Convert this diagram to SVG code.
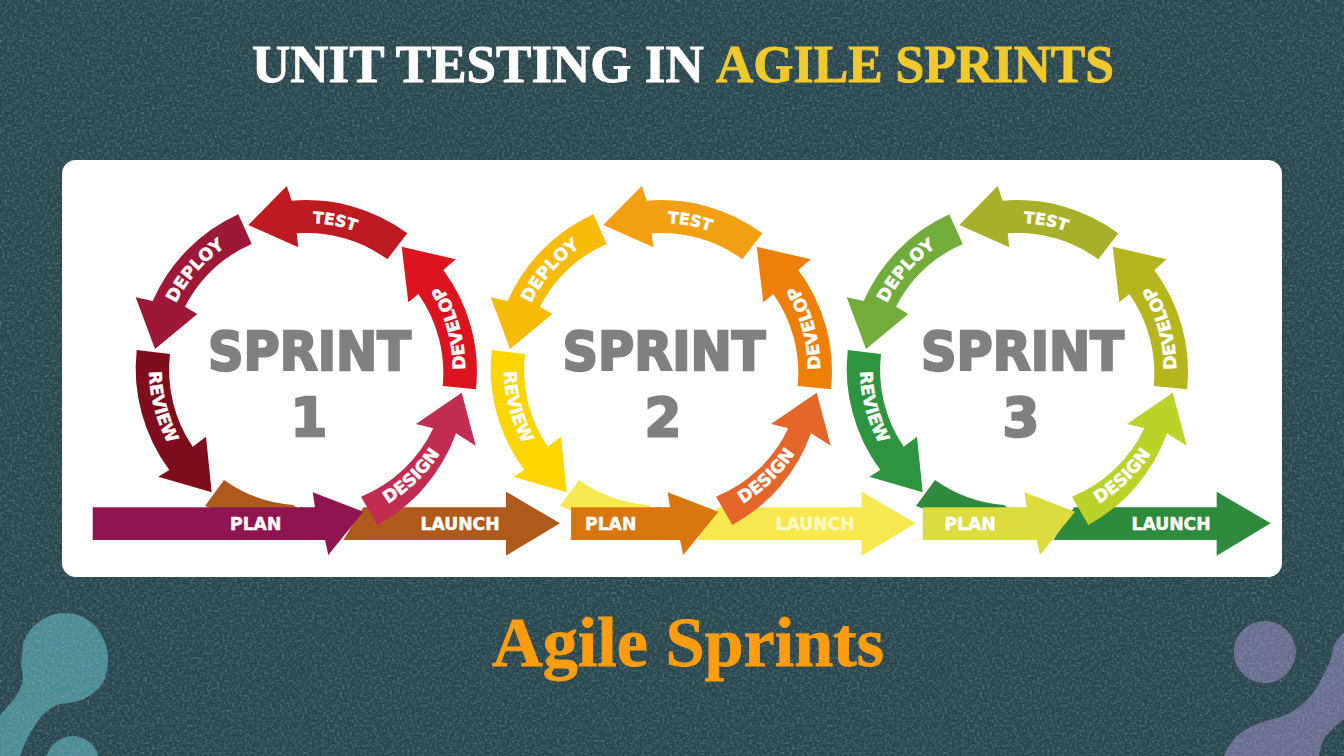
<svg xmlns="http://www.w3.org/2000/svg" width="1344" height="756" viewBox="0 0 1344 756">
<style>
.lab{font-family:"DejaVu Sans","Liberation Sans",sans-serif;font-weight:700;font-size:17.2px;fill:#fff;stroke:#fff;stroke-width:.5;text-anchor:middle}
.sm{font-size:15.8px}
.big{font-family:"DejaVu Sans","Liberation Sans",sans-serif;font-weight:700;fill:#808080;text-anchor:middle;stroke:#808080;stroke-width:2.4}
.title{font-family:"Liberation Serif",serif;font-weight:700;font-size:53px;stroke-width:.9}
.cap{font-family:"Liberation Serif",serif;font-weight:700;font-size:69px;fill:#fb9d0f;stroke:#fb9d0f;stroke-width:.8}
</style>
<defs>
<filter id="grain" x="0" y="0" width="100%" height="100%"><feTurbulence type="fractalNoise" baseFrequency="0.4" numOctaves="2" seed="4"/><feColorMatrix values="0 0 0 0 0.5 0 0 0 0 0.62 0 0 0 0 0.65 0.9 0.9 0 0 -0.8"/></filter>
<path id="test" d="M248.3 225L286.7 186L291.7 200.7A170 170 0 0 1 407.3 233.3L387.3 259.3A137 137 0 0 0 296.7 233.3L298.3 247.3Z"/>
<path id="deploy" d="M238.3 214.3L251.7 244A137 137 0 0 0 185 306.7L197.3 314L155 349L135.7 297.3L152.7 301A170 170 0 0 1 238.3 214.3Z"/>
<path id="review" d="M136.7 350L170 354A137 137 0 0 0 192.7 446.7L206 436.7L211.7 492.3L158.3 476.7L169.3 470A170 170 0 0 1 136.7 350Z"/>
<path id="develop" d="M476 389.3L442.7 386A137 137 0 0 0 418.3 294L408.3 302.3L401.7 246.7L455.7 259.3L443.3 270A170 170 0 0 1 476 389.3Z"/>
<path id="design" d="M461.7 392.7L475.7 445.7L456 433.3A170 170 0 0 1 377.3 525L361 496.7A137 137 0 0 0 433.3 428.3L416 424Z"/>
<path id="planhead" d="M300 507.3H315L312.7 492.3L363.3 511.7L328.3 555L325 540H300Z"/>
<path id="launchhead" d="M506 507.3V491.7L560 523.3L506 555.7V540Z"/>
<path id="swoosh" d="M205 506L224 480A137 137 0 0 0 293 505L300 510H216Z"/>
<path id="tp-test" d="M236.3 241.4A145 145 0 0 1 419.4 276.3"/>
<path id="tp-deploy" d="M161 365.5A146 146 0 0 1 284.3 223.8"/>
<path id="tp-develop" d="M451 433.3A158 158 0 0 0 396.3 237.7"/>
<path id="tp-design" d="M318 525.6A158 158 0 0 0 464.1 384.4"/>
<path id="tp-review" d="M163.8 301.2A158 158 0 0 0 216.3 497.4"/>
<path id="tp-test2" d="M591.3 241.4A145 145 0 0 1 774.4 276.3"/>
<path id="tp-deploy2" d="M516 365.5A146 146 0 0 1 639.3 223.8"/>
<path id="tp-develop2" d="M806 433.3A158 158 0 0 0 751.3 237.7"/>
<path id="tp-design2" d="M673 525.6A158 158 0 0 0 819.1 384.4"/>
<path id="tp-review2" d="M518.8 301.2A158 158 0 0 0 571.3 497.4"/>
<path id="tp-test3" d="M947.3 241.4A145 145 0 0 1 1130.4 276.3"/>
<path id="tp-deploy3" d="M872 365.5A146 146 0 0 1 995.3 223.8"/>
<path id="tp-develop3" d="M1162 433.3A158 158 0 0 0 1107.3 237.7"/>
<path id="tp-design3" d="M1029 525.6A158 158 0 0 0 1175.1 384.4"/>
<path id="tp-review3" d="M874.8 301.2A158 158 0 0 0 927.3 497.4"/>
</defs>
<g id="background">
<rect width="1344" height="756" fill="#2a474e"/>
<path fill="#4b8b93" d="M0 715C12 702 24 690 23 674C20 668 22 655 23 644C29 625 47 613 65 613C90 613 108 635 108 659C108 677 102 687 93 693C84 701 72 703 60 704C47 708 39 718 33 729C27 737 24 746 20 756H0Z"/>
<circle cx="72.5" cy="762.5" r="26.5" fill="#4b8b93"/>
<circle cx="1264.7" cy="652" r="31" fill="#686d8e"/>
<path fill="#686d8e" d="M1344 632.7C1337 638 1333 645 1332 652.7C1331 660 1329 664 1327 667.7C1322 678 1317 688 1310.7 696C1304 704 1296 710 1287 714C1277 719 1267 720 1257 724C1247 728 1239 733 1234 739C1230 744 1226 750 1224 756H1319C1320 750 1321 745 1324 739C1329 731 1337 725 1344 719Z"/>
<rect width="1344" height="756" filter="url(#grain)" opacity="0.5"/>
</g>
<g id="title"><text class="title" x="252" y="82" fill="#fff" stroke="#fff">UNIT TESTING IN</text><text class="title" x="716" y="82" fill="#f0c92e" stroke="#f0c92e" textLength="398" lengthAdjust="spacingAndGlyphs">AGILE SPRINTS</text></g>
<rect id="card" x="62" y="160" width="1220" height="417" rx="14" fill="#fff"/>
<g id="sprint-1">
<g id="s1-launch" fill="#ae5a1c"><use href="#swoosh"/><path d="M343.3 540L363.3 507.3H507V540Z"/><use href="#launchhead"/><text class="lab" x="460" y="529.5">LAUNCH</text></g>
<g id="s1-plan" fill="#8e1550"><rect x="92.7" y="507.3" width="210" height="32.7"/><use href="#planhead"/><text class="lab" x="255.7" y="529.5">PLAN</text></g>
<g id="s1-design" fill="#c12c50"><use href="#design"/><text class="lab"><textPath href="#tp-design" startOffset="50%">DESIGN</textPath></text></g>
<g id="s1-develop" fill="#db1420"><use href="#develop"/><text class="lab"><textPath href="#tp-develop" startOffset="50%">DEVELOP</textPath></text></g>
<g id="s1-test" fill="#be1a22"><use href="#test"/><text class="lab sm"><textPath href="#tp-test" startOffset="50%">TEST</textPath></text></g>
<g id="s1-deploy" fill="#9c1836"><use href="#deploy"/><text class="lab"><textPath href="#tp-deploy" startOffset="50%">DEPLOY</textPath></text></g>
<g id="s1-review" fill="#7f0e1c"><use href="#review"/><text class="lab"><textPath href="#tp-review" startOffset="50%">REVIEW</textPath></text></g>
<text class="big" x="309.5" y="370" font-size="53" textLength="203" lengthAdjust="spacingAndGlyphs">SPRINT</text>
<text class="big" x="309" y="436" font-size="53">1</text>
</g>
<g id="sprint-2">
<g id="s2-launch" fill="#f6e84e"><use href="#swoosh" x="355"/><path d="M696.7 540L718 507.3H862V540Z"/><use href="#launchhead" x="355.7"/><text class="lab" x="815" y="529.5" style="fill:#fdf9c0;stroke:#fdf9c0">LAUNCH</text></g>
<g id="s2-plan" fill="#d9760f"><rect x="571" y="507.3" width="90" height="32.7"/><use href="#planhead" x="355"/><text class="lab" x="610.7" y="529.5">PLAN</text></g>
<g id="s2-design" fill="#e5662a"><use href="#design" x="355"/><text class="lab"><textPath href="#tp-design2" startOffset="50%">DESIGN</textPath></text></g>
<g id="s2-develop" fill="#ee7f08"><use href="#develop" x="355"/><text class="lab"><textPath href="#tp-develop2" startOffset="50%">DEVELOP</textPath></text></g>
<g id="s2-test" fill="#f2a012"><use href="#test" x="355"/><text class="lab sm"><textPath href="#tp-test2" startOffset="50%">TEST</textPath></text></g>
<g id="s2-deploy" fill="#f7bb0a"><use href="#deploy" x="355"/><text class="lab"><textPath href="#tp-deploy2" startOffset="50%">DEPLOY</textPath></text></g>
<g id="s2-review" fill="#fbd600"><use href="#review" x="355"/><text class="lab"><textPath href="#tp-review2" startOffset="50%">REVIEW</textPath></text></g>
<text class="big" x="664" y="370" font-size="53" textLength="203" lengthAdjust="spacingAndGlyphs">SPRINT</text>
<text class="big" x="663" y="436" font-size="53">2</text>
</g>
<g id="sprint-3">
<g id="s3-launch" fill="#2e8b3d"><use href="#swoosh" x="711"/><path d="M1053.3 540L1074 507.3H1217V540Z"/><use href="#launchhead" x="710.7"/><text class="lab" x="1171" y="529.5">LAUNCH</text></g>
<g id="s3-plan" fill="#dcdc3f"><rect x="922.7" y="507.3" width="95" height="32.7"/><use href="#planhead" x="711.7"/><text class="lab" x="970" y="529.5">PLAN</text></g>
<g id="s3-design" fill="#bbd229"><use href="#design" x="711"/><text class="lab"><textPath href="#tp-design3" startOffset="50%">DESIGN</textPath></text></g>
<g id="s3-develop" fill="#b5b51e"><use href="#develop" x="711"/><text class="lab"><textPath href="#tp-develop3" startOffset="50%">DEVELOP</textPath></text></g>
<g id="s3-test" fill="#a8b02a"><use href="#test" x="711"/><text class="lab sm"><textPath href="#tp-test3" startOffset="50%">TEST</textPath></text></g>
<g id="s3-deploy" fill="#72ad3c"><use href="#deploy" x="711"/><text class="lab"><textPath href="#tp-deploy3" startOffset="50%">DEPLOY</textPath></text></g>
<g id="s3-review" fill="#2e9440"><use href="#review" x="711"/><text class="lab"><textPath href="#tp-review3" startOffset="50%">REVIEW</textPath></text></g>
<text class="big" x="1022.5" y="370" font-size="53" textLength="203" lengthAdjust="spacingAndGlyphs">SPRINT</text>
<text class="big" x="1021" y="436" font-size="53">3</text>
</g>
<text id="caption" class="cap" x="492" y="665.5" textLength="392" lengthAdjust="spacingAndGlyphs">Agile Sprints</text>
</svg>
